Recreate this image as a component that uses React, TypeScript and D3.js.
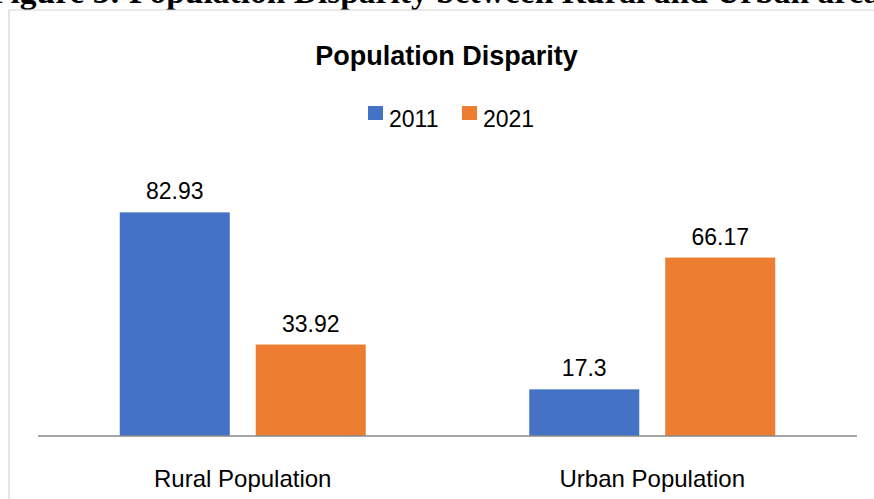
import React from "react";
import * as d3 from "d3";

const categories = ["Rural Population", "Urban Population"];
const seriesNames = ["2011", "2021"];
const values2011 = [82.93, 17.3];
const values2021 = [33.92, 66.17];
const seriesColors = ["#4472C4", "#ED7D31"];
const chartTitle = "Population Disparity";
const captionText = "Figure 3: Population Disparity between Rural and Urban areas";

const W = 874;
const H = 499;
const SANS = "'Liberation Sans', Arial, sans-serif";
const SERIF = "'Liberation Serif', 'Times New Roman', serif";

export default function App() {
  const series = [values2011, values2021];
  const x0 = d3
    .scaleBand<string>()
    .domain(categories)
    .range([38, 857])
    .paddingInner(0.3993)
    .paddingOuter(0.19965);
  const x1 = d3
    .scaleBand<string>()
    .domain(seriesNames)
    .range([0, x0.bandwidth()])
    .paddingInner(0.191)
    .paddingOuter(0);
  const y = d3.scaleLinear().domain([0, 90]).range([436, 193.3]);

  const legendX = [368, 462];

  return (
    <svg
      width={W}
      height={H}
      style={{ position: "absolute", left: 0, top: 0, background: "#fff" }}
    >
      <rect x={0} y={0} width={W} height={H} fill="#fff" />
      {/* caption of the page, clipped at the top as in the source */}
      <text x={-10} y={2.5} fontFamily={SERIF} fontWeight="bold" fontSize={33.5} fill="#000">
        {captionText}
      </text>
      {/* chart frame */}
      <line x1={9} y1={10} x2={W} y2={10} stroke="#d4d4d4" strokeWidth={1.2} />
      <line x1={9} y1={10} x2={9} y2={H} stroke="#d4d4d4" strokeWidth={1.2} />

      {/* title */}
      <text
        x={446.5}
        y={65}
        textAnchor="middle"
        fontFamily={SANS}
        fontWeight="bold"
        fontSize={27}
        fill="#000"
      >
        {chartTitle}
      </text>

      {/* legend */}
      {seriesNames.map((s, i) => (
        <g key={s}>
          <rect x={legendX[i]} y={106} width={15} height={14} fill={seriesColors[i]} />
          <text x={legendX[i] + 21} y={126.7} fontFamily={SANS} fontSize={23} fill="#000">
            {s}
          </text>
        </g>
      ))}

      {/* bars */}
      {categories.map((c, ci) => (
        <g key={c} transform={`translate(${x0(c)},0)`}>
          {seriesNames.map((s, si) => {
            const v = series[si][ci];
            const bx = x1(s) as number;
            const bw = x1.bandwidth();
            return (
              <g key={s}>
                <rect
                  x={bx}
                  y={y(v)}
                  width={bw}
                  height={y(0) - y(v)}
                  fill={seriesColors[si]}
                />
                <text
                  x={bx + bw / 2}
                  y={y(v) - 13}
                  textAnchor="middle"
                  fontFamily={SANS}
                  fontSize={23}
                  fill="#000"
                >
                  {v}
                </text>
              </g>
            );
          })}
        </g>
      ))}

      {/* axis line */}
      <line x1={38} y1={y(0)} x2={857} y2={y(0)} stroke="#898989" strokeWidth={1.5} />

      {/* category labels */}
      {categories.map((c) => (
        <text
          key={c}
          x={(x0(c) as number) + x0.bandwidth() / 2}
          y={486.7}
          textAnchor="middle"
          fontFamily={SANS}
          fontSize={24}
          fill="#000"
        >
          {c}
        </text>
      ))}
    </svg>
  );
}
